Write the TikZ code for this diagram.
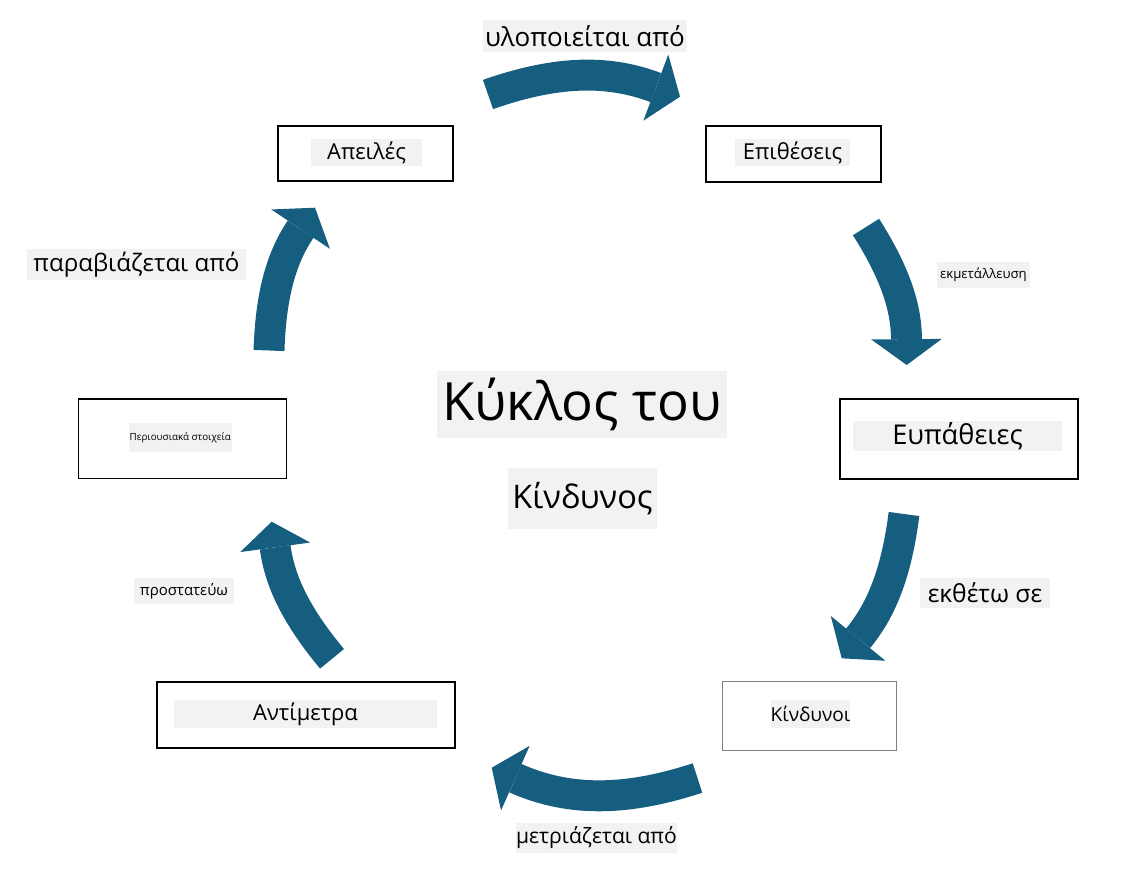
\documentclass[tikz,border=0pt]{standalone}
\usepackage{fontspec}
\setmainfont{Open Sans}
\usetikzlibrary{arrows.meta,positioning}
\definecolor{cycblue}{RGB}{22,94,128}
\definecolor{tagbg}{RGB}{242,242,242}
\newcommand{\fs}[1]{\fontsize{#1}{1.2\dimexpr#1pt\relax}\selectfont}

\begin{document}
\begin{tikzpicture}[x=0.02cm, y=0.02cm,
    box/.style={draw, line width=0.65pt, inner sep=0pt},
    tag/.style={fill=tagbg, inner sep=0pt},
    cyc/.style={draw=cycblue, line width=17.6pt,
      -{Triangle[length=14.7pt, width=40.2pt, line width=0pt]}}]
  \useasboundingbox (0,0) rectangle (1121,-876);

  % Define boxes
  \node[box, minimum width=3.5cm, minimum height=1.1cm]   (threats) at (365.5,-153.5) {};
  \node[box, minimum width=3.5cm, minimum height=1.12cm]  (attacks) at (793.5,-154) {};
  \node[box, minimum width=4.76cm, minimum height=1.6cm]  (vulns)   at (959,-439) {};
  \node[box, draw=gray, minimum width=3.48cm, minimum height=1.38cm] (risks) at (809.7,-716.2) {};
  \node[box, minimum width=5.96cm, minimum height=1.32cm] (counter) at (306,-715) {};
  \node[box, minimum width=4.17cm, minimum height=1.59cm] (assets)  at (182.5,-438.7) {};

  % Box texts
  \node[tag, minimum width=2.22cm, minimum height=0.54cm, font=\fs{12.5}] at (366.5,-152.5) {Απειλές};
  \node[tag, minimum width=2.3cm, minimum height=0.54cm, font=\fs{12.5}]  at (792.5,-152.5) {Επιθέσεις};
  \node[tag, minimum width=4.18cm, minimum height=0.6cm, font=\fs{15.5}]  at (957.5,-436) {Ευπάθειες};
  \node[tag, minimum width=1.58cm, minimum height=0.56cm, font=\fs{10.9}] at (810.5,-714) {Κίνδυνοι};
  \node[tag, minimum width=5.26cm, minimum height=0.56cm, font=\fs{12.5}] at (305.5,-714) {Αντίμετρα};
  \node[tag, minimum width=2.05cm, minimum height=0.59cm, font=\fs{5.6}]  at (180.3,-437.5) {Περιουσιακά στοιχεία};

  % Title
  \node[tag, minimum width=5.8cm, minimum height=1.33cm, font=\fs{30}]  (title)  at (582,-404.3) {Κύκλος του};
  \node[tag, minimum width=2.99cm, minimum height=1.23cm, font=\fs{18.5}] (title2) at (582.5,-498.3) {Κίνδυνος};

  % Edge texts
  \node[tag, minimum width=4.1cm, minimum height=0.64cm, font=\fs{14.8}] (l1) at (585,-36) {υλοποιείται από};
  \node[tag, minimum width=1.86cm, minimum height=0.52cm, font=\fs{7.5}] (l2) at (983.5,-275) {εκμετάλλευση};
  \node[tag, minimum width=2.6cm, minimum height=0.6cm, font=\fs{14}]    (l3) at (985,-593) {εκθέτω σε};
  \node[tag, minimum width=3.22cm, minimum height=0.6cm, font=\fs{12}]   (l4) at (596.5,-838) {μετριάζεται από};
  \node[tag, minimum width=2.0cm, minimum height=0.52cm, font=\fs{8.5}]  (l5) at (184,-591) {προστατεύω};
  \node[tag, minimum width=4.38cm, minimum height=0.62cm, font=\fs{13.7}] (l6) at (136.5,-264.5) {παραβιάζεται από};

  % Arrow ends
  \coordinate (t1) at (488,-94.5);   \coordinate (h1) at (680,-96.7);
  \coordinate (t2) at (866,-227);    \coordinate (h2) at (906.7,-365);
  \coordinate (t3) at (904,-514);    \coordinate (h3) at (841.7,-658.3);
  \coordinate (t4) at (697.5,-778);  \coordinate (h4) at (491.7,-767.7);
  \coordinate (t5) at (332,-658.8);  \coordinate (h5) at (271.7,-521.7);
  \coordinate (t6) at (269,-350.5);  \coordinate (h6) at (315,-207.7);

  % Connect the cycle
  \draw[cyc] (t1) to[bend left=20] (h1);
  \draw[cyc] (t2) to[bend left=16] (h2);
  \draw[cyc] (t3) to[bend left=16] (h3);
  \draw[cyc] (t4) to[bend left=21] (h4);
  \draw[cyc] (t5) to[bend left=16] (h5);
  \draw[cyc] (t6) to[bend left=16] (h6);
\end{tikzpicture}
\end{document}
